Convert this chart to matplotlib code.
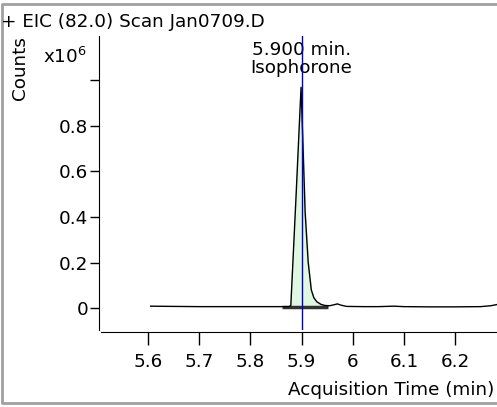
import matplotlib.pyplot as plt
from matplotlib.lines import Line2D
import numpy as np

# chromatogram trace (time in min, counts in x10^6)
tiempo = [5.605, 5.65, 5.70, 5.75, 5.80, 5.85, 5.875, 5.879, 5.889, 5.899,
          5.903, 5.907, 5.913, 5.919, 5.924, 5.930, 5.938, 5.946, 5.955,
          5.963, 5.970, 5.978, 5.988, 6.02, 6.05, 6.08, 6.10, 6.15, 6.20,
          6.25, 6.27, 6.284]
cuentas = [0.008, 0.007, 0.006, 0.006, 0.006, 0.006, 0.006, 0.010, 0.48, 0.97,
           0.70, 0.42, 0.20, 0.08, 0.045, 0.027, 0.016, 0.011, 0.010,
           0.014, 0.018, 0.012, 0.007, 0.006, 0.006, 0.008, 0.006, 0.005, 0.005,
           0.006, 0.010, 0.016]

# integrated peak region and baseline
pico_inicio = 5.862
pico_fin = 5.951
linea_base = 0.005
rt_pico = 5.900
compuesto = "Isophorone"

xticks = [5.6, 5.7, 5.8, 5.9, 6.0, 6.1, 6.2]
xlabels = ["5.6", "5.7", "5.8", "5.9", "6", "6.1", "6.2"]
yticks = [0, 0.2, 0.4, 0.6, 0.8, 1.0]
ylabels = ["0", "0.2", "0.4", "0.6", "0.8", ""]

plt.rcParams['font.family'] = 'DejaVu Sans'
plt.rcParams['font.size'] = 13.2

W, H = 497, 407
fig = plt.figure(figsize=(W / 100, H / 100), dpi=100)
ax = fig.add_axes([101 / W, 1 - 330 / H, (W - 101) / W, (330 - 36) / H])

t = np.array(tiempo)
c = np.array(cuentas)

# fill under the peak
m = (t >= 5.879) & (t <= pico_fin)
ax.fill_between(t[m], linea_base, c[m], color='#e0f8e0', zorder=1)
ax.plot(t, c, color='black', lw=1, zorder=3)
ax.plot([pico_inicio, pico_fin], [linea_base, linea_base], color='#333333', lw=2.5,
        solid_capstyle='butt', zorder=2)
ax.axvline(rt_pico, color='#0000cc', lw=1, zorder=4)

ax.text(rt_pico, 1.135, "%.3f min." % rt_pico, ha='center', va='center')
ax.text(rt_pico, 1.055, compuesto, ha='center', va='center')

ax.set_xlim(5.508, 6.282)
ax.set_ylim(-0.0967, 1.1956)
ax.set_xticks(xticks, xlabels)
ax.set_yticks(yticks, ylabels)
ax.tick_params(axis='x', length=9.4, pad=6, width=1)
ax.tick_params(axis='y', length=6.7, pad=1, width=1)

ax.spines['top'].set_visible(False)
ax.spines['right'].set_visible(False)
ax.spines['left'].set_position(('outward', 1.5))
ax.spines['bottom'].set_position(('outward', 1.5))

fig.text(1 / W, 1 - 22 / H, "+ EIC (82.0) Scan Jan0709.D", ha='left', va='center')
fig.text(20 / W, 1 - 68 / H, "Counts", rotation=90, ha='center', va='center')
fig.text(43 / W, 1 - 57 / H, r"x10$^{6}$", ha='left', va='center')
fig.text(494 / W, 1 - 390 / H, "Acquisition Time (min)", ha='right', va='center')

# gray frame (left, top, bottom)
x0, x1 = 2 / W, 1.0
y0, y1 = 1 - 403 / H, 1 - 4 / H
fig.add_artist(Line2D([x1, x0, x0, x1], [y1, y1, y0, y0], transform=fig.transFigure,
                      color='#a0a0a0', lw=2))

fig.savefig("out.png", dpi=100)
